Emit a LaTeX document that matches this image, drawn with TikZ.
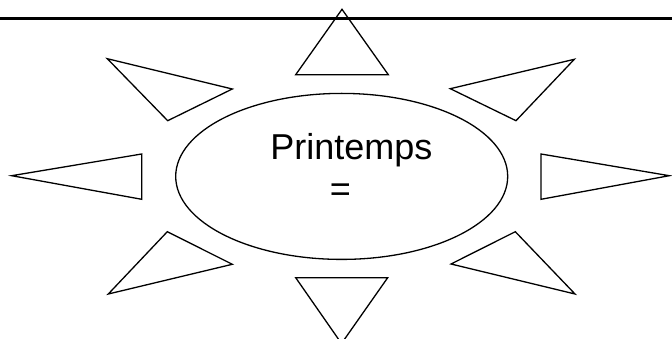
\documentclass[tikz,border=0pt]{standalone}
\usepackage{fontspec}
\setmainfont{Liberation Sans}
\usetikzlibrary{shapes.geometric}
\begin{document}
\begin{tikzpicture}[x=1pt,y=-1pt,line width=1.3pt,line join=miter,
  ray/.style={draw,line width=1.3pt},
  label/.style={font=\fontsize{36}{43}\selectfont,inner sep=0pt,anchor=base}]
\clip (0,0) rectangle (672,339);
\draw[line width=3pt] (0,19) -- (672,19);
\node[ellipse,draw,line width=1.3pt,minimum width=332pt,minimum height=166pt] (sun) at (341.7,176.4) {};
\node[label] (season) at (351.3,160) {Printemps};
\node[label] (equals) at (340.3,201.7) {=};
% rays round the sun
\foreach \ax/\ay/\bx/\by/\cx/\cy in {342/9.3/295.7/74.7/388.3/74.7,
    295.7/277.7/387.7/277.7/341.5/343.5,
    11.7/175.7/141.7/154/141.7/199.3,
    669.3/175.7/541/154/541/199.3,
    107.3/58.7/232.3/89/167.7/120.7,
    574.3/59.3/450.3/88.7/516/120.7,
    167.3/231.7/232.3/264.3/108.3/294,
    515.3/231.7/451/264/575/294}
  \draw[ray] (\ax,\ay) -- (\bx,\by) -- (\cx,\cy) -- cycle;
\end{tikzpicture}
\end{document}
